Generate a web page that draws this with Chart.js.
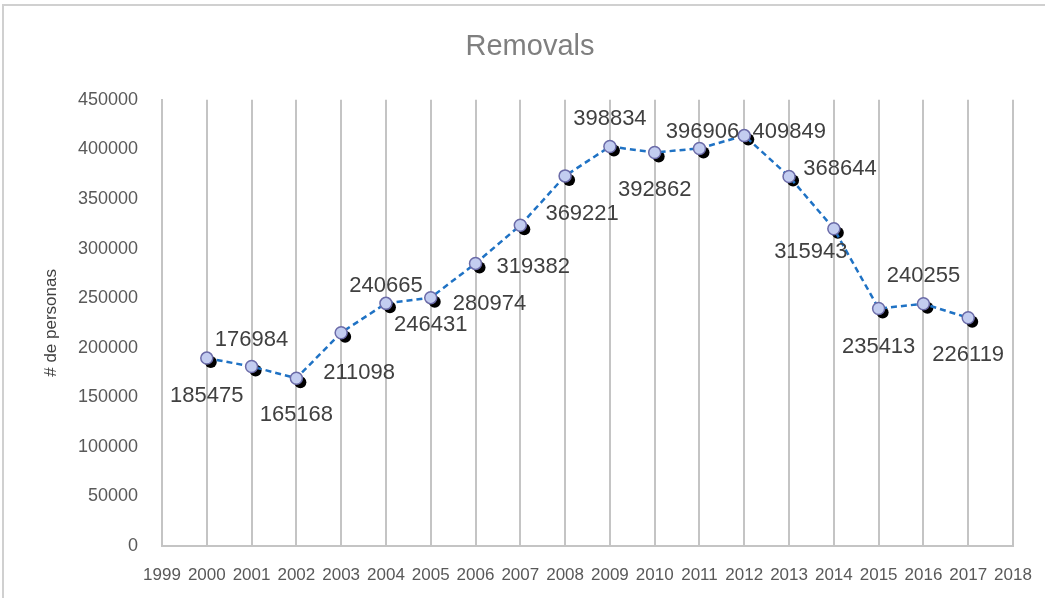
<!DOCTYPE html>
<html>
<head>
<meta charset="utf-8">
<script src="https://cdn.jsdelivr.net/npm/chart.js@4.4.1/dist/chart.umd.min.js"></script>
<style>
  html, body { margin: 0; padding: 0; background: #ffffff; }
  #wrap { position: relative; width: 1045px; height: 598px; overflow: hidden; }
  #frame { position: absolute; left: 2px; top: 4px; width: 2000px; height: 2000px; border: 2px solid #d0d0d0; box-sizing: border-box; }
  canvas { position: absolute; left: 0; top: 0; }
</style>
</head>
<body>
<div id="wrap">
  <div id="frame"></div>
  <canvas id="c" width="1045" height="598"></canvas>
</div>
<script>
// ---- data ----
const years = ['1999','2000','2001','2002','2003','2004','2005','2006','2007','2008','2009','2010','2011','2012','2013','2014','2015','2016','2017','2018'];
const removals = [null, 185475, 176984, 165168, 211098, 240665, 246431, 280974, 319382, 369221, 398834, 392862, 396906, 409849, 368644, 315943, 235413, 240255, 226119, null];
const yTicks = [0, 50000, 100000, 150000, 200000, 250000, 300000, 350000, 400000, 450000];
const chartTitle = 'Removals';
const yTitle = '# de personas';

// ---- label placement (style) ----
const labelOffsets = [
  null, [0,34], [0,-31], [0,33], [18,36], [0,-21], [0,23], [14,37], [13,38], [17,34],
  [0,-32], [0,33], [3,-21], [45,-8], [51,-12], [-23,19], [0,34], [0,-32], [0,33], null
];

const shiftPlugin = {
  id: 'shift',
  beforeDatasetDraw(chart, args) {
    const ds = chart.data.datasets[args.index];
    chart.ctx.save();
    chart.ctx.translate(ds.shiftX || 0, ds.shiftY || 0);
  },
  afterDatasetDraw(chart) {
    chart.ctx.restore();
  }
};

const labelPlugin = {
  id: 'valueLabels',
  afterDatasetsDraw(chart) {
    const ctx = chart.ctx;
    const meta = chart.getDatasetMeta(0);
    const data = chart.data.datasets[0].data;
    ctx.save();
    ctx.font = '22px "Liberation Sans", Arial, sans-serif';
    ctx.fillStyle = '#404040';
    ctx.textAlign = 'center';
    ctx.textBaseline = 'middle';
    meta.data.forEach((pt, i) => {
      if (data[i] == null || !labelOffsets[i]) return;
      const [dx, dy] = labelOffsets[i];
      ctx.fillText(String(data[i]), pt.x + dx, pt.y + dy);
    });
    ctx.restore();
  }
};

const gridColor = '#c4c4c4';

new Chart(document.getElementById('c'), {
  type: 'line',
  data: {
    labels: years,
    datasets: [
      {
        label: chartTitle,
        data: removals,
        borderColor: '#1f72c4',
        borderWidth: 2.5,
        borderDash: [6, 4],
        fill: false,
        tension: 0,
        pointRadius: 6,
        pointBackgroundColor: '#c3cdf0',
        pointBorderColor: '#6b6ba8',
        pointBorderWidth: 1.5,
        shiftX: 0,
        shiftY: -4
      },
      {
        label: 'shadow',
        data: removals,
        showLine: false,
        pointRadius: 6,
        pointBackgroundColor: '#000000',
        pointBorderColor: '#000000',
        pointBorderWidth: 0,
        shiftX: 4,
        shiftY: 0
      }
    ]
  },
  options: {
    responsive: false,
    animation: false,
    events: [],
    layout: { padding: { left: 16, right: 1, top: 0, bottom: 0 } },
    plugins: {
      legend: { display: false },
      tooltip: { enabled: false },
      title: {
        display: true,
        text: chartTitle,
        color: '#7f7f7f',
        font: { family: '"Liberation Sans", Arial, sans-serif', size: 29, weight: 'normal' },
        padding: { top: 30, bottom: 35 }
      }
    },
    scales: {
      x: {
        type: 'category',
        offset: false,
        grid: { display: true, color: gridColor, lineWidth: 2, drawTicks: false },
        border: { display: true, color: gridColor, width: 2 },
        ticks: {
          color: '#595959',
          font: { family: '"Liberation Sans", Arial, sans-serif', size: 17 },
          padding: 19,
          maxRotation: 0,
          autoSkip: false
        },
        afterFit(scale) { scale.height = 52; scale.paddingRight = 32; }
      },
      y: {
        min: 0,
        max: 450000,
        grid: { display: false, drawTicks: false },
        border: { display: true, color: gridColor, width: 2 },
        afterBuildTicks(scale) { scale.ticks = yTicks.map(v => ({ value: v })); },
        ticks: {
          color: '#595959',
          font: { family: '"Liberation Sans", Arial, sans-serif', size: 18 },
          padding: 24,
          callback: (v) => String(v)
        },
        title: {
          display: true,
          text: yTitle,
          color: '#404040',
          font: { family: '"Liberation Sans", Arial, sans-serif', size: 17 },
          padding: { top: 25, bottom: 0 }
        },
        afterFit(scale) { scale.width = 146; }
      }
    }
  },
  plugins: [shiftPlugin, labelPlugin]
});
</script>
</body>
</html>
